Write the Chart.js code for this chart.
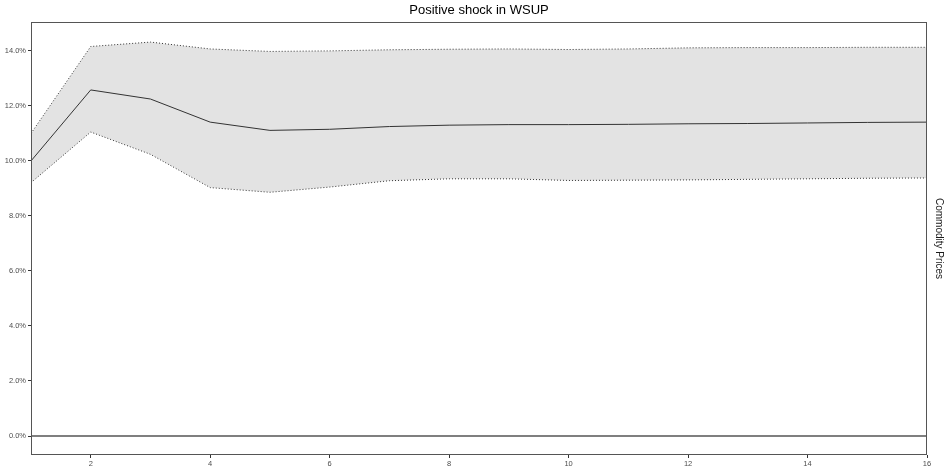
<!DOCTYPE html>
<html>
<head>
<meta charset="utf-8">
<script src="https://cdn.jsdelivr.net/npm/chart.js@4"></script>
<style>
  html, body { margin: 0; padding: 0; background: #fff; }
  #wrap { width: 947px; height: 470px; }
</style>
</head>
<body>
<div id="wrap"><canvas id="c" width="947" height="470"></canvas></div>
<script>
// Impulse response horizon (periods)
const horizon = [1,2,3,4,5,6,7,8,9,10,11,12,13,14,15,16];
// Response of commodity prices, in percent
const response = [10.00,12.58,12.25,11.41,11.11,11.15,11.25,11.30,11.32,11.32,11.33,11.35,11.36,11.38,11.40,11.41];
// Confidence band, upper and lower bounds (percent)
const upperBand = [11.00,14.16,14.32,14.07,13.98,14.00,14.04,14.06,14.07,14.05,14.07,14.11,14.12,14.12,14.13,14.13];
const lowerBand = [9.21,11.05,10.24,9.03,8.86,9.05,9.28,9.35,9.35,9.29,9.30,9.31,9.33,9.35,9.37,9.38];
// Axis ticks
const xTicks = [2,4,6,8,10,12,14,16];
const yTicks = [0,2,4,6,8,10,12,14];

const pts = arr => horizon.map((h, i) => ({x: h, y: arr[i]}));
const FONT = '"Liberation Sans", Arial, Helvetica, sans-serif';

const frame = {
  id: 'frame',
  afterDraw(chart) {
    const {ctx, chartArea: a} = chart;
    ctx.save();
    ctx.strokeStyle = '#555';
    ctx.lineWidth = 1;
    ctx.strokeRect(Math.round(a.left) + 0.5, Math.round(a.top) + 0.5,
                   Math.round(a.right - a.left) - 1, Math.round(a.bottom - a.top) - 1);
    ctx.fillStyle = '#000';
    ctx.font = '13px ' + FONT;
    ctx.textAlign = 'center';
    ctx.textBaseline = 'middle';
    ctx.fillText('Positive shock in WSUP', (a.left + a.right) / 2, 10);
    ctx.fillStyle = '#1a1a1a';
    ctx.font = '10px ' + FONT;
    ctx.translate(939, (a.top + a.bottom) / 2);
    ctx.rotate(Math.PI / 2);
    ctx.fillText('Commodity Prices', 0, 0);
    ctx.restore();
  }
};

new Chart(document.getElementById('c'), {
  type: 'line',
  data: {
    datasets: [
      {
        data: pts(upperBand),
        borderColor: '#333',
        borderWidth: 1,
        borderDash: [1, 2],
        backgroundColor: '#e3e3e3',
        fill: '+1',
        pointRadius: 0,
        tension: 0
      },
      {
        data: pts(lowerBand),
        borderColor: '#333',
        borderWidth: 1,
        borderDash: [1, 2],
        fill: false,
        pointRadius: 0,
        tension: 0
      },
      {
        data: pts(response),
        borderColor: '#333',
        borderWidth: 1,
        fill: false,
        pointRadius: 0,
        tension: 0
      },
      {
        data: [{x: horizon[0], y: 0}, {x: horizon[horizon.length - 1], y: 0}],
        borderColor: '#000',
        borderWidth: 1.2,
        fill: false,
        pointRadius: 0
      }
    ]
  },
  options: {
    responsive: false,
    animation: false,
    events: [],
    layout: { padding: { top: 22, right: 20, left: 0, bottom: 0 } },
    plugins: {
      legend: { display: false },
      title: { display: false },
      tooltip: { enabled: false },
      filler: { drawTime: 'beforeDatasetsDraw' }
    },
    scales: {
      x: {
        type: 'linear',
        min: 1,
        max: 16,
        afterBuildTicks: s => { s.ticks = xTicks.map(v => ({value: v})); },
        afterFit: s => { s.height = 15; },
        grid: { drawOnChartArea: false, tickLength: 3, color: '#333' },
        border: { display: false },
        ticks: {
          autoSkip: false,
          maxRotation: 0,
          padding: 1,
          color: '#4d4d4d',
          font: { family: FONT, size: 7.5 },
          callback: v => String(v)
        }
      },
      y: {
        type: 'linear',
        min: -0.69,
        max: 15.05,
        afterBuildTicks: s => { s.ticks = yTicks.map(v => ({value: v})); },
        afterFit: s => { s.width = 31; },
        grid: { drawOnChartArea: false, tickLength: 3, color: '#333' },
        border: { display: false },
        ticks: {
          autoSkip: false,
          padding: 2,
          color: '#4d4d4d',
          font: { family: FONT, size: 7.5 },
          callback: v => v.toFixed(1) + '%'
        }
      }
    }
  },
  plugins: [frame]
});
</script>
</body>
</html>
